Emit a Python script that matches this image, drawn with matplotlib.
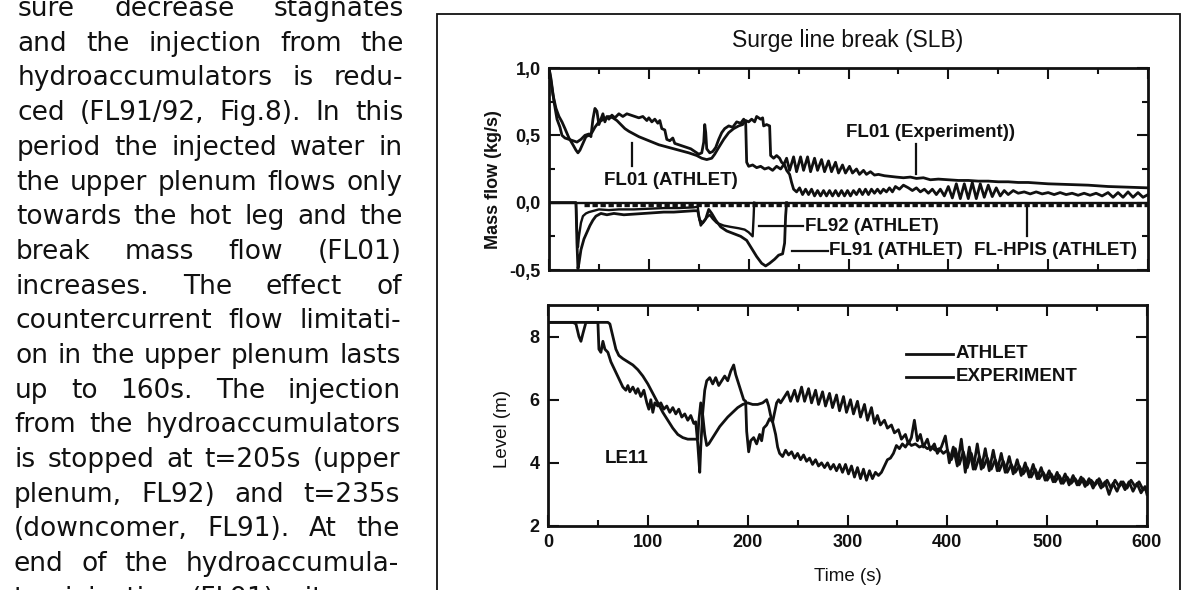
import matplotlib
matplotlib.use("Agg")
import matplotlib.pyplot as plt
from matplotlib.patches import Rectangle
from matplotlib.ticker import MultipleLocator, FixedLocator

INK = "#111111"
FONT = ["Liberation Sans", "DejaVu Sans"]
BODY_FONT = ["DejaVu Sans"]

# --- running text of the page (justified column) ---
body_lines = [
    "sure decrease stagnates",
    "and the injection from the",
    "hydroaccumulators is redu-",
    "ced (FL91/92, Fig.8). In this",
    "period the injected water in",
    "the upper plenum flows only",
    "towards the hot leg and the",
    "break mass flow (FL01)",
    "increases. The effect of",
    "countercurrent flow limitati-",
    "on in the upper plenum lasts",
    "up to 160s. The injection",
    "from the hydroaccumulators",
    "is stopped at t=205s (upper",
    "plenum, FL92) and t=235s",
    "(downcomer, FL91). At the",
    "end of the hydroaccumula-",
    "tor injection (FL91) nitrogen",
]

# --- mass flow, top panel (time s, kg/s) ---
fl01_exp_t = [0, 2, 5, 8, 11, 13, 16, 20, 24, 28, 32, 36, 40, 42, 44, 46, 48, 50, 52, 54,
              56, 58, 60, 63, 66, 70, 74, 78, 82, 86, 90, 94, 98, 100, 103, 106, 109, 111, 113, 116,
              118, 121, 124, 126, 130, 134, 138, 142, 146, 150, 153, 155, 156, 157, 158, 161, 164, 167, 170, 173,
              176, 180, 184, 188, 192, 195, 197, 198, 200, 204, 208, 212, 216, 220, 224, 228, 232, 235,
              238, 241, 245, 248, 252, 255, 259, 262, 266, 269, 273, 276, 280, 283, 287, 290, 294, 297,
              301, 304, 308, 311, 315, 318, 322, 326, 330, 336, 342, 348, 355, 362, 368, 375, 382, 390,
              400, 410, 420, 430, 440, 450, 460, 470, 480, 490, 500, 520, 540, 560, 580, 600]
fl01_exp_v = [1.0, 0.92, 0.75, 0.62, 0.56, 0.50, 0.48, 0.47, 0.46, 0.45, 0.47, 0.50, 0.51, 0.49, 0.62, 0.70, 0.68, 0.58, 0.62, 0.66,
              0.60, 0.64, 0.62, 0.65, 0.63, 0.66, 0.64, 0.66, 0.65, 0.64, 0.63, 0.64, 0.61, 0.63, 0.60, 0.62, 0.59, 0.61, 0.55, 0.54,
              0.47, 0.46, 0.48, 0.44, 0.43, 0.42, 0.41, 0.40, 0.38, 0.36, 0.37, 0.45, 0.58, 0.52, 0.40, 0.37, 0.38, 0.41, 0.47, 0.52,
              0.55, 0.57, 0.56, 0.60, 0.59, 0.62, 0.60, 0.30, 0.27, 0.28, 0.26, 0.27, 0.25, 0.26, 0.24, 0.27, 0.25, 0.28,
              0.33, 0.24, 0.34, 0.23, 0.34, 0.24, 0.34, 0.23, 0.33, 0.24, 0.32, 0.23, 0.31, 0.23, 0.30, 0.22, 0.28, 0.22,
              0.27, 0.22, 0.25, 0.21, 0.24, 0.21, 0.23, 0.205, 0.21, 0.20, 0.195, 0.19, 0.185, 0.19, 0.18, 0.185, 0.17, 0.175,
              0.17, 0.165, 0.165, 0.16, 0.16, 0.155, 0.155, 0.15, 0.15, 0.145, 0.14, 0.135, 0.13, 0.12, 0.115, 0.11]

fl01_ath_t = [0, 2, 4, 7, 10, 13, 16, 20, 24, 27, 29, 31, 34, 37, 40, 43, 46, 50, 55, 60,
              64, 68, 72, 76, 80, 90, 100, 110, 120, 130, 140, 148, 153, 158, 163, 166, 170, 175, 180, 185,
              190, 194, 197, 200, 203, 206, 208, 212, 214, 215, 218, 221, 222, 225, 228, 231, 233, 236, 238, 241,
              243, 245, 248, 251, 254, 257, 260, 263, 266, 269, 272, 275, 278, 281, 284, 287, 290, 293, 296, 299,
              302, 305, 308, 311, 314, 317, 320, 323, 326, 329, 332, 335, 338, 341, 344, 347, 351, 355, 360, 364,
              368, 372, 376, 380, 384, 388, 392, 396, 400, 404, 408, 412, 416, 420, 424, 428, 432, 436, 440, 444,
              448, 452, 456, 460, 465, 470, 476, 482, 488, 494, 500, 506, 512, 518, 524, 530, 536, 542, 548, 554,
              560, 565, 570, 575, 580, 585, 590, 595, 600]
fl01_ath_v = [1.0, 0.90, 0.80, 0.70, 0.64, 0.60, 0.55, 0.48, 0.43, 0.39, 0.37, 0.39, 0.44, 0.49, 0.50, 0.52, 0.56, 0.60, 0.62, 0.64,
              0.63, 0.61, 0.58, 0.55, 0.53, 0.49, 0.46, 0.43, 0.41, 0.39, 0.37, 0.35, 0.33, 0.32, 0.33, 0.36, 0.41, 0.47, 0.52, 0.55,
              0.57, 0.58, 0.61, 0.60, 0.62, 0.60, 0.64, 0.62, 0.63, 0.57, 0.58, 0.57, 0.35, 0.33, 0.35, 0.33, 0.30, 0.28, 0.24, 0.21,
              0.15, 0.10, 0.08, 0.11, 0.06, 0.10, 0.06, 0.10, 0.05, 0.09, 0.05, 0.09, 0.05, 0.09, 0.05, 0.09, 0.05, 0.09, 0.05, 0.09,
              0.05, 0.09, 0.06, 0.10, 0.06, 0.10, 0.06, 0.10, 0.07, 0.10, 0.07, 0.10, 0.08, 0.11, 0.08, 0.12, 0.10, 0.13, 0.11, 0.09,
              0.11, 0.08, 0.10, 0.07, 0.10, 0.06, 0.10, 0.05, 0.12, 0.035, 0.14, 0.03, 0.14, 0.03, 0.15, 0.03, 0.14, 0.04, 0.13, 0.045,
              0.11, 0.05, 0.09, 0.06, 0.09, 0.07, 0.08, 0.065, 0.08, 0.065, 0.075, 0.06, 0.075, 0.06, 0.07, 0.055, 0.07, 0.055, 0.07, 0.05,
              0.075, 0.04, 0.075, 0.04, 0.08, 0.04, 0.075, 0.04, 0.06]

fl91_t = [0, 27, 28, 29, 30, 32, 35, 38, 41, 44, 47, 52, 58, 65, 75, 85, 95, 105, 115, 125,
          135, 145, 149, 151, 154, 157, 160, 163, 167, 172, 178, 185, 192, 198, 203, 208, 213, 217, 221, 226,
          230, 234, 236, 237, 238]
fl91_v = [0.0, 0.0, -0.30, -0.49, -0.45, -0.35, -0.27, -0.22, -0.17, -0.13, -0.10, -0.08, -0.09, -0.08, -0.09, -0.085, -0.08, -0.075, -0.07, -0.07,
          -0.065, -0.06, -0.06, -0.13, -0.15, -0.12, -0.05, -0.08, -0.13, -0.18, -0.21, -0.23, -0.25, -0.28, -0.34, -0.40, -0.45, -0.47, -0.45, -0.42,
          -0.39, -0.38, -0.30, -0.10, 0.0]

fl92_t = [0, 27, 28, 29, 30, 32, 34, 37, 40, 45, 50, 60, 70, 85, 100, 115, 130, 145, 149, 150,
          152, 155, 158, 161, 164, 168, 175, 182, 190, 196, 200, 204, 205, 205.5]
fl92_v = [0.0, 0.0, -0.20, -0.33, -0.25, -0.15, -0.10, -0.08, -0.07, -0.06, -0.05, -0.055, -0.05, -0.05, -0.045, -0.04, -0.04, -0.035, -0.03, -0.10,
          -0.17, -0.14, -0.11, -0.09, -0.12, -0.15, -0.17, -0.18, -0.19, -0.20, -0.22, -0.25, -0.10, 0.0]

hpis_t = [35, 600]
hpis_v = [-0.018, -0.018]

# --- collapsed level LE11, bottom panel (time s, m) ---
le11_exp_t = [0, 25, 28, 31, 33, 35, 38, 50, 51, 53, 55, 57, 60, 63, 66, 69, 72, 75, 78, 80,
              82, 85, 88, 90, 93, 96, 99, 101, 103, 105, 107, 110, 113, 116, 119, 122, 125, 128, 131, 134,
              137, 140, 143, 146, 148, 150, 152, 153, 155, 157, 159, 162, 165, 168, 171, 174, 177, 180, 183, 186,
              188, 190, 193, 196, 198, 199, 201, 203, 206, 209, 212, 214, 216, 219, 222, 225, 227, 229, 231, 233,
              236, 240, 243, 247, 250, 254, 257, 261, 264, 268, 271, 275, 278, 282, 285, 289, 292, 296, 299, 303,
              306, 310, 313, 317, 320, 324, 327, 330, 333, 337, 340, 344, 347, 351, 354, 358, 361, 364, 367, 370,
              373, 376, 380, 383, 387, 390, 394, 398, 402, 406, 410, 414, 418, 422, 426, 430, 434, 438, 442, 446,
              450, 454, 458, 462, 466, 470, 474, 478, 482, 486, 490, 494, 498, 502, 506, 510, 514, 518, 522, 526,
              530, 534, 538, 542, 546, 550, 554, 558, 562, 566, 570, 574, 578, 582, 586, 590, 594, 598, 600]
le11_exp_v = [8.45, 8.45, 8.4, 8.0, 7.85, 8.1, 8.45, 8.45, 7.6, 7.5, 7.85, 7.6, 7.5, 7.2, 7.0, 6.8, 6.6, 6.4, 6.3, 6.45,
              6.25, 6.4, 6.2, 6.35, 6.1, 6.3, 5.9, 5.7, 6.0, 5.6, 5.9, 5.8, 5.9, 5.7, 5.8, 5.6, 5.75, 5.55, 5.7, 5.45,
              5.55, 5.35, 5.5, 5.25, 5.3, 4.6, 3.7, 4.5, 5.6, 6.3, 6.6, 6.7, 6.5, 6.7, 6.45, 6.6, 6.75, 6.6, 6.9, 7.1,
              6.8, 6.6, 6.3, 6.0, 5.95, 5.0, 4.35, 4.7, 4.8, 4.6, 4.9, 4.7, 5.1, 5.2, 5.4, 5.3, 5.6, 5.9, 6.0, 5.9,
              6.05, 6.25, 5.95, 6.3, 5.95, 6.4, 5.95, 6.35, 5.9, 6.3, 5.85, 6.25, 5.8, 6.2, 5.75, 6.15, 5.65, 6.1, 5.6, 6.0,
              5.55, 5.95, 5.45, 5.85, 5.35, 5.75, 5.25, 5.5, 5.2, 5.35, 5.1, 5.2, 4.95, 5.05, 4.75, 4.9, 4.6, 4.8, 5.35, 4.7,
              4.9, 4.5, 4.75, 4.4, 4.6, 4.3, 4.5, 4.85, 4.0, 4.5, 3.9, 4.75, 3.7, 4.5, 3.8, 4.6, 3.8, 4.45, 3.75, 4.4,
              3.75, 4.3, 3.7, 4.2, 3.65, 4.1, 3.6, 4.0, 3.55, 3.95, 3.5, 3.85, 3.45, 3.75, 3.4, 3.7, 3.35, 3.65, 3.3, 3.6,
              3.3, 3.55, 3.25, 3.5, 3.2, 3.45, 3.2, 3.4, 3.0, 3.35, 3.1, 3.4, 3.15, 3.4, 3.1, 3.35, 3.05, 3.25, 3.0]

le11_ath_t = [0, 60, 62, 65, 68, 71, 75, 80, 85, 90, 95, 100, 105, 110, 115, 120, 125, 130, 135, 140,
              145, 150, 151, 153, 155, 157, 159, 161, 164, 168, 172, 176, 180, 185, 190, 195, 200, 205, 210, 215,
              219, 221, 223, 225, 228, 230, 232, 235, 238, 241, 244, 247, 250, 253, 256, 259, 262, 265, 268, 271,
              274, 277, 280, 283, 286, 289, 292, 295, 298, 301, 304, 307, 310, 313, 316, 319, 322, 325, 328, 331,
              334, 337, 340, 343, 346, 349, 352, 355, 358, 361, 364, 368, 372, 376, 380, 384, 388, 392, 396, 400,
              404, 408, 412, 416, 420, 424, 428, 432, 436, 440, 444, 448, 452, 456, 460, 464, 468, 472, 476, 480,
              484, 488, 492, 496, 500, 504, 508, 512, 516, 520, 524, 528, 532, 536, 540, 544, 548, 552, 556, 560,
              564, 568, 572, 576, 580, 584, 588, 592, 596, 600]
le11_ath_v = [8.45, 8.45, 8.4, 8.0, 7.6, 7.4, 7.3, 7.2, 7.1, 6.95, 6.75, 6.5, 6.2, 5.9, 5.6, 5.35, 5.1, 4.9, 4.8, 4.75,
              4.75, 4.75, 5.3, 5.9, 5.5, 4.9, 4.55, 4.6, 4.75, 4.95, 5.15, 5.3, 5.45, 5.6, 5.75, 5.85, 5.9, 5.85, 5.85, 5.9,
              6.0, 5.8, 5.5, 5.3, 4.9, 4.5, 4.3, 4.2, 4.4, 4.25, 4.35, 4.15, 4.3, 4.1, 4.25, 4.05, 4.15, 3.95, 4.1, 3.9,
              4.0, 3.85, 4.0, 3.8, 3.95, 3.75, 3.95, 3.7, 3.95, 3.65, 3.9, 3.55, 3.85, 3.5, 3.8, 3.45, 3.75, 3.5, 3.7, 3.6,
              3.7, 3.9, 4.1, 4.15, 4.3, 4.55, 4.45, 4.6, 4.5, 4.65, 4.55, 4.6, 4.5, 4.55, 4.45, 4.5, 4.4, 4.45, 4.3, 4.4,
              4.1, 4.45, 3.95, 4.35, 3.85, 4.3, 3.8, 4.2, 3.85, 4.15, 3.8, 4.1, 3.75, 4.05, 3.7, 3.95, 3.7, 3.9, 3.65, 3.85,
              3.55, 3.8, 3.5, 3.7, 3.45, 3.65, 3.4, 3.6, 3.35, 3.55, 3.35, 3.5, 3.3, 3.5, 3.3, 3.45, 3.3, 3.5, 3.25, 3.45,
              3.2, 3.45, 3.25, 3.4, 3.2, 3.45, 3.25, 3.4, 3.15, 3.2]

W, H = 1192, 590
fig = plt.figure(figsize=(W / 100, H / 100), dpi=100)
fig.patch.set_facecolor("white")


def fx(px):
    return px / W


def fy(py):
    return 1 - py / H


# justified column on the left
renderer = fig.canvas.get_renderer()
for i, line in enumerate(body_lines):
    base = 16 + 34.7 * i
    left = 18 - 5 * i / 17
    right = 404 - 5 * i / 17
    words = line.split()
    arts = [fig.text(0, fy(base), w, fontsize=19, family=BODY_FONT, color=INK, va="baseline", ha="left")
            for w in words]
    widths = [a.get_window_extent(renderer).width for a in arts]
    gap = (right - left - sum(widths)) / max(len(words) - 1, 1)
    x = left
    for a, w in zip(arts, widths):
        a.set_x(fx(x))
        x += w + gap

# frame round the figure
fig.add_artist(Rectangle((fx(437), fy(640)), fx(1180) - fx(437), fy(14) - fy(640),
                         transform=fig.transFigure, fill=False, lw=1.3, ec=INK))

fig.text(fx(848), fy(41), "Surge line break (SLB)", fontsize=16.5, family=FONT,
         color=INK, ha="center", va="center")

ax1 = fig.add_axes([fx(549), fy(270), fx(1148) - fx(549), fy(68) - fy(270)])
ax2 = fig.add_axes([fx(548), fy(526), fx(1147) - fx(548), fy(305) - fy(526)])

LW = 2.0
ax1.plot(fl01_exp_t, fl01_exp_v, color=INK, lw=LW)
ax1.plot(fl01_ath_t, fl01_ath_v, color=INK, lw=LW)
ax1.plot(fl91_t, fl91_v, color=INK, lw=LW)
ax1.plot(fl92_t, fl92_v, color=INK, lw=LW * 0.85)
ax1.axhline(0, color=INK, lw=1.7)
ax1.plot(hpis_t, hpis_v, color=INK, lw=2.4, ls=(0, (1.6, 0.8)))

ann = dict(fontsize=13.5, family=FONT, weight="bold", color=INK)
ax1.text(122, 0.165, "FL01 (ATHLET)", ha="center", va="center", **ann)
ax1.plot([83, 83], [0.445, 0.27], color=INK, lw=1.6)
ax1.text(382, 0.518, "FL01 (Experiment))", ha="center", va="center", **ann)
ax1.plot([368, 368], [0.435, 0.215], color=INK, lw=1.6)
ax1.plot([210, 254], [-0.174, -0.174], color=INK, lw=1.6)
ax1.text(256, -0.174, "FL92 (ATHLET)", ha="left", va="center", **ann)
ax1.plot([243, 279], [-0.357, -0.357], color=INK, lw=1.6)
ax1.text(280, -0.357, "FL91 (ATHLET)", ha="left", va="center", **ann)
ax1.text(426, -0.357, "FL-HPIS (ATHLET)", ha="left", va="center", **ann)
ax1.plot([479, 479], [-0.03, -0.25], color=INK, lw=1.6)

ax2.plot(le11_exp_t, le11_exp_v, color=INK, lw=LW)
ax2.plot(le11_ath_t, le11_ath_v, color=INK, lw=LW)
ax2.plot([359, 406], [7.46, 7.46], color=INK, lw=LW)
ax2.text(408, 7.46, "ATHLET", ha="left", va="center", **ann)
ax2.plot([359, 406], [6.72, 6.72], color=INK, lw=LW)
ax2.text(408, 6.72, "EXPERIMENT", ha="left", va="center", **ann)
ax2.text(79, 4.14, "LE11", ha="center", va="center", **ann)

tick_font = dict(fontsize=13, family=FONT, weight="bold")

ax1.set_xlim(0, 600)
ax1.set_ylim(-0.5, 1.0)
ax1.xaxis.set_major_locator(MultipleLocator(100))
ax1.xaxis.set_minor_locator(MultipleLocator(50))
ax1.set_yticks([-0.5, 0.0, 0.5, 1.0])
ax1.yaxis.set_minor_locator(MultipleLocator(0.25))
ax1.set_xticklabels([])
ax1.set_yticklabels(["-0,5", "0,0", "0,5", "1,0"], **tick_font)
ax1.set_ylabel("Mass flow (kg/s)", fontsize=13, family=FONT, weight="bold", color=INK)
ax1.yaxis.set_label_coords(-0.078, 0.45)

ax2.set_xlim(0, 600)
ax2.set_ylim(2, 9)
ax2.set_xticks(range(0, 601, 100))
ax2.set_xticklabels([str(v) for v in range(0, 601, 100)], **tick_font)
ax2.xaxis.set_minor_locator(MultipleLocator(50))
ax2.set_yticks([2, 4, 6, 8])
ax2.set_yticklabels(["2", "4", "6", "8"], **tick_font)
ax2.set_ylabel("Level (m)", fontsize=13.5, family=FONT, color=INK)
ax2.yaxis.set_label_coords(-0.062, 0.44)
ax2.set_xlabel("Time (s)", fontsize=13.5, family=FONT, color=INK)
ax2.xaxis.set_label_coords(0.5, -0.19)

for ax in (ax1, ax2):
    for s in ax.spines.values():
        s.set_linewidth(2.0)
        s.set_color(INK)
    ax.tick_params(which="both", direction="in", top=True, right=True, colors=INK, width=1.5)
    ax.tick_params(which="major", length=8, pad=6)
    ax.tick_params(which="minor", length=4)

fig.savefig("out.png", dpi=100, facecolor="white")
